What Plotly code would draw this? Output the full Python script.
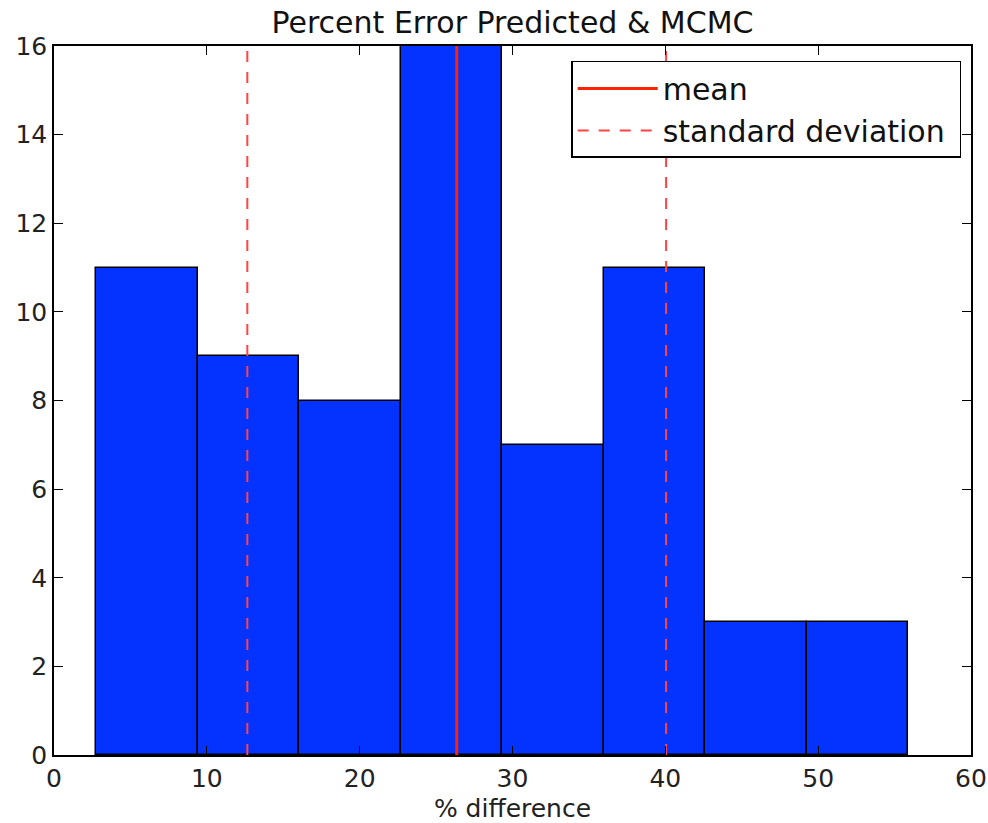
import plotly.graph_objects as go

bin_edges = [2.77, 9.41, 16.05, 22.69, 29.33, 35.97, 42.61, 49.25, 55.88]
counts = [11, 9, 8, 16, 7, 11, 3, 3]
mean_val = 26.35
std_low = 12.65
std_high = 40.05

centers = [(a + b) / 2 for a, b in zip(bin_edges[:-1], bin_edges[1:])]
widths = [b - a for a, b in zip(bin_edges[:-1], bin_edges[1:])]

FONT = "DejaVu Sans"
fig = go.Figure()
fig.add_trace(go.Bar(x=centers, y=counts, width=widths,
                     marker=dict(color="#0433ff", line=dict(color="black", width=1.5)),
                     showlegend=False, hoverinfo="skip"))
fig.add_trace(go.Scatter(x=[mean_val, mean_val], y=[0, 16], mode="lines",
                         line=dict(color="#ff2200", width=3), name="mean"))
fig.add_trace(go.Scatter(x=[std_low, std_low], y=[0, 16], mode="lines",
                         line=dict(color="#ff4444", width=2, dash="11px,10px"),
                         name="standard deviation\u00a0"))
fig.add_trace(go.Scatter(x=[std_high, std_high], y=[0, 16], mode="lines",
                         line=dict(color="#ff4444", width=2, dash="11px,10px"),
                         name="standard deviation", showlegend=False))

axis_common = dict(showgrid=False, zeroline=False, showline=True, linecolor="black",
                   linewidth=1.5, mirror="ticks", ticks="inside", ticklen=9,
                   tickcolor="black", tickwidth=1, automargin=False,
                   tickfont=dict(family=FONT, size=25, color="#222"))
fig.update_xaxes(range=[0, 60], tickvals=[0, 10, 20, 30, 40, 50, 60],
                 title=dict(text="% difference", font=dict(family=FONT, size=25, color="#222"),
                            standoff=12), **axis_common)
fig.update_yaxes(range=[0, 16], tickvals=[0, 2, 4, 6, 8, 10, 12, 14, 16], **axis_common)

fig.update_layout(
    width=988, height=823,
    margin=dict(l=54, r=17, t=46, b=68),
    plot_bgcolor="white", paper_bgcolor="white",
    bargap=0,
    title=dict(text="Percent Error Predicted & MCMC", x=0.5, xanchor="center", xref="paper",
               y=1 - 22 / 823, yanchor="middle", automargin=False,
               font=dict(family=FONT, size=30, color="#111")),
    legend=dict(x=0.564, y=0.979, xanchor="left", yanchor="top",
                bordercolor="black", borderwidth=1.5, bgcolor="white",
                font=dict(family=FONT, size=30, color="#111"),
                itemwidth=80, tracegroupgap=4),
    font=dict(family=FONT),
)
fig.write_html("out.html")
